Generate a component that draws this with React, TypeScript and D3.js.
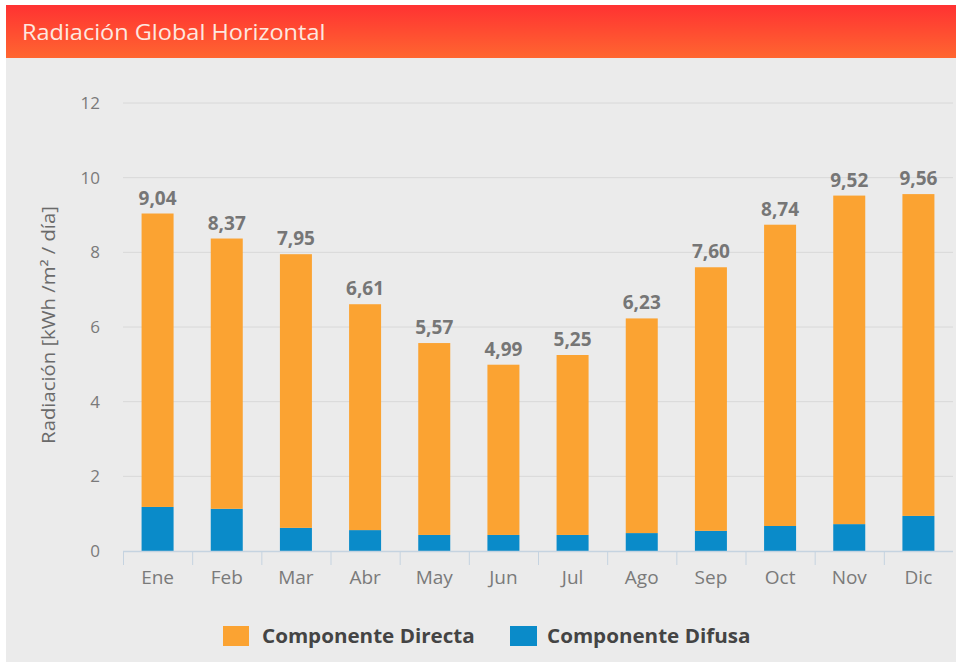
import React from "react";
import * as d3 from "d3";

const months = ["Ene", "Feb", "Mar", "Abr", "May", "Jun", "Jul", "Ago", "Sep", "Oct", "Nov", "Dic"];
const totals = [9.04, 8.37, 7.95, 6.61, 5.57, 4.99, 5.25, 6.23, 7.6, 8.74, 9.52, 9.56];
const difusa = [1.18, 1.13, 0.62, 0.56, 0.43, 0.43, 0.43, 0.48, 0.54, 0.67, 0.72, 0.94];
const directa = totals.map((t, i) => +(t - difusa[i]).toFixed(2));
const yTicks = [0, 2, 4, 6, 8, 10, 12];

const W = 956;
const H = 662;
const ORANGE = "#fba332";
const BLUE = "#0a8bc9";
const FONT = "'Open Sans', 'Noto Sans', sans-serif";

export default function App() {
  const x = d3.scaleBand<string>().domain(months).range([123, 953]).paddingInner(0).paddingOuter(0);
  const y = d3.scaleLinear().domain([0, 12]).range([551, 103]);
  const bw = 32;
  const fmt = (v: number) => v.toFixed(2).replace(".", ",");
  const stack = d3.stack<any>().keys(["difusa", "directa"])(
    months.map((m, i) => ({ m, difusa: difusa[i], directa: directa[i] }))
  );
  const colors: Record<string, string> = { difusa: BLUE, directa: ORANGE };

  return (
    <div style={{ position: "absolute", left: 0, top: 0 }}>
      <svg width={W} height={H} style={{ display: "block" }} fontFamily={FONT}>
        <defs>
          <linearGradient id="hdr" x1="0" y1="0" x2="0" y2="1">
            <stop offset="0" stopColor="#ff3232" />
            <stop offset="1" stopColor="#ff6630" />
          </linearGradient>
        </defs>
        <rect x={0} y={0} width={W} height={H} fill="#ffffff" />
        <rect x={6} y={5} width={W - 6} height={H - 5} fill="#ebebeb" />
        <rect x={6} y={5} width={W - 6} height={53} fill="url(#hdr)" />
        <text x={22} y={40} fill="#fde8e0" fontSize={21} transform="translate(22,0) scale(1.12,1) translate(-22,0)">
          Radiación Global Horizontal
        </text>

        {yTicks.filter((t) => t > 0).map((t) => (
          <line key={t} x1={123} x2={953} y1={y(t)} y2={y(t)} stroke="#d8d8d8" strokeWidth={1} />
        ))}
        {yTicks.map((t) => (
          <text key={t} x={100} y={y(t) + 6} textAnchor="end" fill="#7a7a7a" fontSize={17}>{t}</text>
        ))}
        <text
          transform={`translate(55,325) rotate(-90) scale(1.16,1)`}
          textAnchor="middle"
          fill="#6a6a6a"
          fontSize={17.5}
        >
          Radiación [kWh /m² / día]
        </text>

        {stack.map((layer) => (
          <g key={layer.key}>
            {layer.map((d, i) => (
              <rect
                key={i}
                x={(x(months[i]) as number) + x.bandwidth() / 2 - bw / 2}
                y={y(d[1])}
                width={bw}
                height={y(d[0]) - y(d[1])}
                fill={colors[layer.key]}
              />
            ))}
          </g>
        ))}

        <line x1={123} x2={953} y1={551.5} y2={551.5} stroke="#c5d3e0" strokeWidth={1.5} />
        {months.map((m) => (
          <line key={m} x1={(x(m) as number) + 0.5} x2={(x(m) as number) + 0.5} y1={551} y2={565} stroke="#c5d3e0" strokeWidth={1} />
        ))}
        {months.map((m) => (
          <text key={m} x={(x(m) as number) + x.bandwidth() / 2} y={584} textAnchor="middle" fill="#7a7a7a" fontSize={19}>
            {m}
          </text>
        ))}
        {totals.map((t, i) => (
          <text
            key={i}
            x={(x(months[i]) as number) + x.bandwidth() / 2}
            y={y(t) - 9}
            textAnchor="middle"
            fill="#767676"
            fontSize={19}
            fontWeight="bold"
          >
            {fmt(t)}
          </text>
        ))}

        <rect x={223} y={626} width={26} height={20} fill={ORANGE} />
        <text x={262} y={643} fill="#444" fontSize={19} fontWeight="bold" transform="translate(262,0) scale(1.085,1) translate(-262,0)">
          Componente Directa
        </text>
        <rect x={510} y={626} width={27} height={20} fill={BLUE} />
        <text x={547} y={643} fill="#444" fontSize={19} fontWeight="bold" transform="translate(547,0) scale(1.085,1) translate(-547,0)">
          Componente Difusa
        </text>
      </svg>
    </div>
  );
}
